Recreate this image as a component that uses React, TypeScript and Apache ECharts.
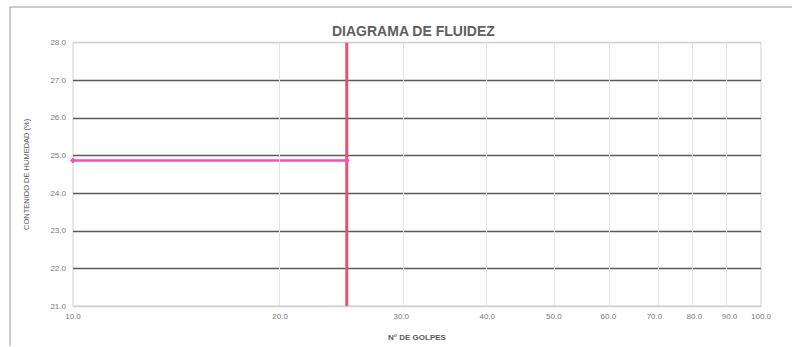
import React, { useEffect, useRef } from "react";
import * as echarts from "echarts";

const xTicks = [10, 20, 30, 40, 50, 60, 70, 80, 90, 100];
const yMin = 21;
const yMax = 28;
const flowX = [10, 25];
const flowY = [24.87, 24.87];
const liquidLimitBlows = 25;

const lg = (v: number) => Math.log10(v);

export default function App() {
  const ref = useRef<HTMLDivElement>(null);
  useEffect(() => {
    if (!ref.current) return;
    const chart = echarts.init(ref.current, null, { renderer: "svg" });
    const hLineColors = ["#cfcfcf", "#5a5a5a", "#5a5a5a", "#5a5a5a", "#5a5a5a", "#5a5a5a", "#5a5a5a", "#cfcfcf"];
    chart.setOption({
      animation: false,
      backgroundColor: "#ffffff",
      title: {
        text: "DIAGRAMA DE FLUIDEZ",
        left: 327,
        top: 19,
        textStyle: { fontFamily: "Liberation Sans, Arial", fontSize: 14, fontWeight: "bold", color: "#606060" },
      },
      graphic: [
        { type: "line", shape: { x1: 10, y1: 7, x2: 792, y2: 7 }, style: { stroke: "#9a9a9a", lineWidth: 1 } },
        { type: "line", shape: { x1: 10, y1: 7, x2: 10, y2: 346 }, style: { stroke: "#9a9a9a", lineWidth: 1 } },
      ],
      grid: { left: 73, right: 31, top: 42.7, bottom: 41, show: true, borderColor: "#d0d0d0", borderWidth: 1 },
      xAxis: {
        type: "value",
        min: lg(10),
        max: lg(100),
        name: "N° DE GOLPES",
        nameLocation: "middle",
        nameGap: 27,
        nameTextStyle: { fontFamily: "Liberation Sans, Arial", fontSize: 8, fontWeight: "bold", color: "#5a5a5a" },
        axisLine: { show: true, lineStyle: { color: "#d0d0d0" } },
        axisTick: { show: false, customValues: xTicks.map(lg) },
        splitLine: { show: false },
        axisLabel: {
          customValues: xTicks.map(lg),
          margin: 6,
          fontFamily: "Liberation Sans, Arial",
          fontSize: 8,
          color: "#777",
          formatter: (v: number) => Math.pow(10, v).toFixed(1),
        },
      },
      yAxis: {
        type: "value",
        min: yMin,
        max: yMax,
        interval: 1,
        name: "CONTENIDO DE HUMEDAD (%)",
        nameLocation: "middle",
        nameGap: 43,
        nameTextStyle: { fontFamily: "Liberation Sans, Arial", fontSize: 7.5, color: "#5a5a5a" },
        axisLine: { show: false },
        axisTick: { show: false },
        splitLine: { show: true, lineStyle: { color: hLineColors, width: 1.4 } },
        axisLabel: {
          margin: 7,
          fontFamily: "Liberation Sans, Arial",
          fontSize: 8,
          color: "#777",
          formatter: (v: number) => v.toFixed(1),
        },
      },
      series: [
        {
          type: "line",
          data: [],
          silent: true,
          markLine: {
            silent: true,
            symbol: "none",
            label: { show: false },
            lineStyle: { color: "#e4e4e4", width: 1, type: "solid" },
            data: xTicks.slice(1, -1).map((t) => ({ xAxis: lg(t) })),
          },
        },
        {
          type: "line",
          data: [
            [lg(liquidLimitBlows), yMin],
            [lg(liquidLimitBlows), yMax],
          ],
          symbol: "none",
          lineStyle: { color: "#e8506f", width: 3 },
          z: 3,
        },
        {
          type: "line",
          data: flowX.map((x, i) => [lg(x), flowY[i]]),
          symbol: "diamond",
          symbolSize: 6,
          itemStyle: { color: "#ee55b4" },
          lineStyle: { color: "#ee55b4", width: 2.5 },
          z: 4,
        },
      ],
    });
    return () => chart.dispose();
  }, []);
  return <div ref={ref} style={{ position: "absolute", left: 0, top: 0, width: 792, height: 347 }} />;
}
